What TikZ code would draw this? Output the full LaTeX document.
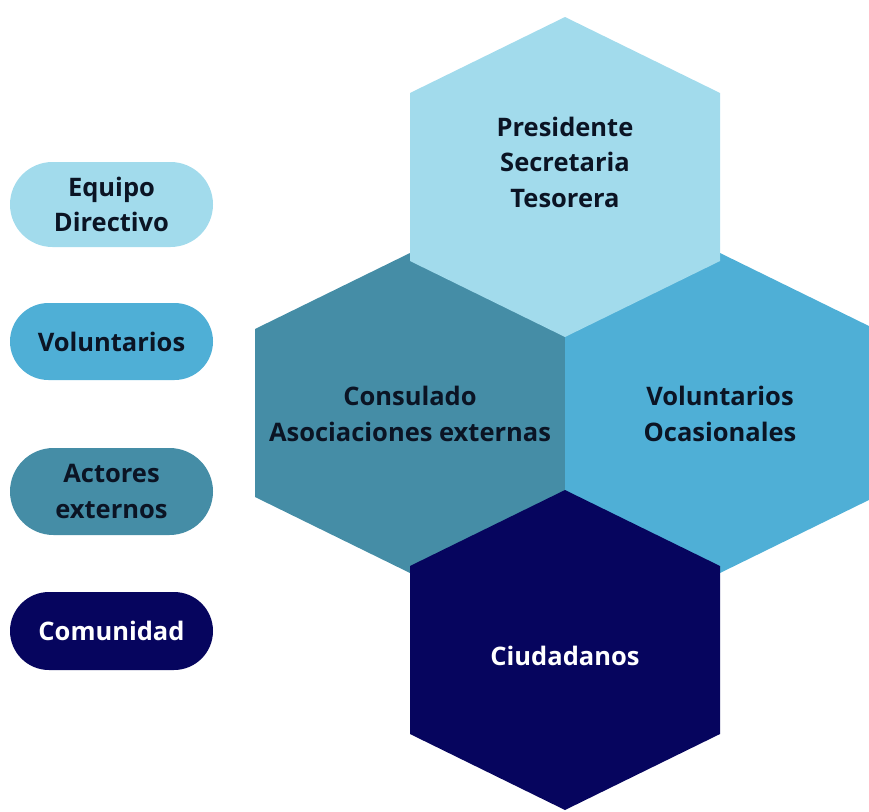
\documentclass[tikz,border=0pt]{standalone}
\usepackage{fontspec}
\setmainfont{Open Sans}
\usetikzlibrary{shapes.misc}
\definecolor{cLight}{HTML}{A2DBEC}
\definecolor{cMid}{HTML}{4FAFD6}
\definecolor{cTeal}{HTML}{458DA6}
\definecolor{cNavy}{HTML}{06055E}
\definecolor{cText}{HTML}{0B1424}
\def\hexshape#1{(#1) +(0,-160) -- +(155,-84) -- +(155,84) -- +(0,160) -- +(-155,84) -- +(-155,-84) -- cycle}
\begin{document}
\begin{tikzpicture}[x=1pt,y=-1pt,
  lbl/.style={font=\bfseries\fontsize{25.5}{35.5}\selectfont, align=center, text=cText, inner sep=0pt},
  pill/.style={rounded rectangle, minimum width=203pt, inner sep=0pt, font=\bfseries\fontsize{25.5}{35.5}\selectfont, align=center, text=cText}]
\useasboundingbox (0,0) rectangle (869,811);
\coordinate (ctop) at (565,177);
\coordinate (cleft) at (410,413);
\coordinate (cright) at (720,413);
\coordinate (cbot) at (565,650);
\fill[cTeal] \hexshape{cleft};
\fill[cMid] \hexshape{cright};
\fill[cLight] \hexshape{ctop};
\fill[cNavy] \hexshape{cbot};
\node[lbl] (ttop) at (565,162) {Presidente\\Secretaria\\Tesorera};
\node[lbl] (tleft) at (410,414) {Consulado\\Asociaciones externas};
\node[lbl] (tright) at (720,414) {Voluntarios\\Ocasionales};
\node[lbl, text=white] (tbot) at (565,656) {Ciudadanos};
\node[pill, fill=cLight, minimum height=85pt] (p1) at (111.5,204.5) {Equipo\\Directivo};
\node[pill, fill=cMid, minimum height=77pt] (p2) at (111.5,341.5) {Voluntarios};
\node[pill, fill=cTeal, minimum height=87pt] (p3) at (111.5,491.5) {Actores\\externos};
\node[pill, fill=cNavy, minimum height=78pt, text=white] (p4) at (111.5,631) {Comunidad};
\end{tikzpicture}
\end{document}
